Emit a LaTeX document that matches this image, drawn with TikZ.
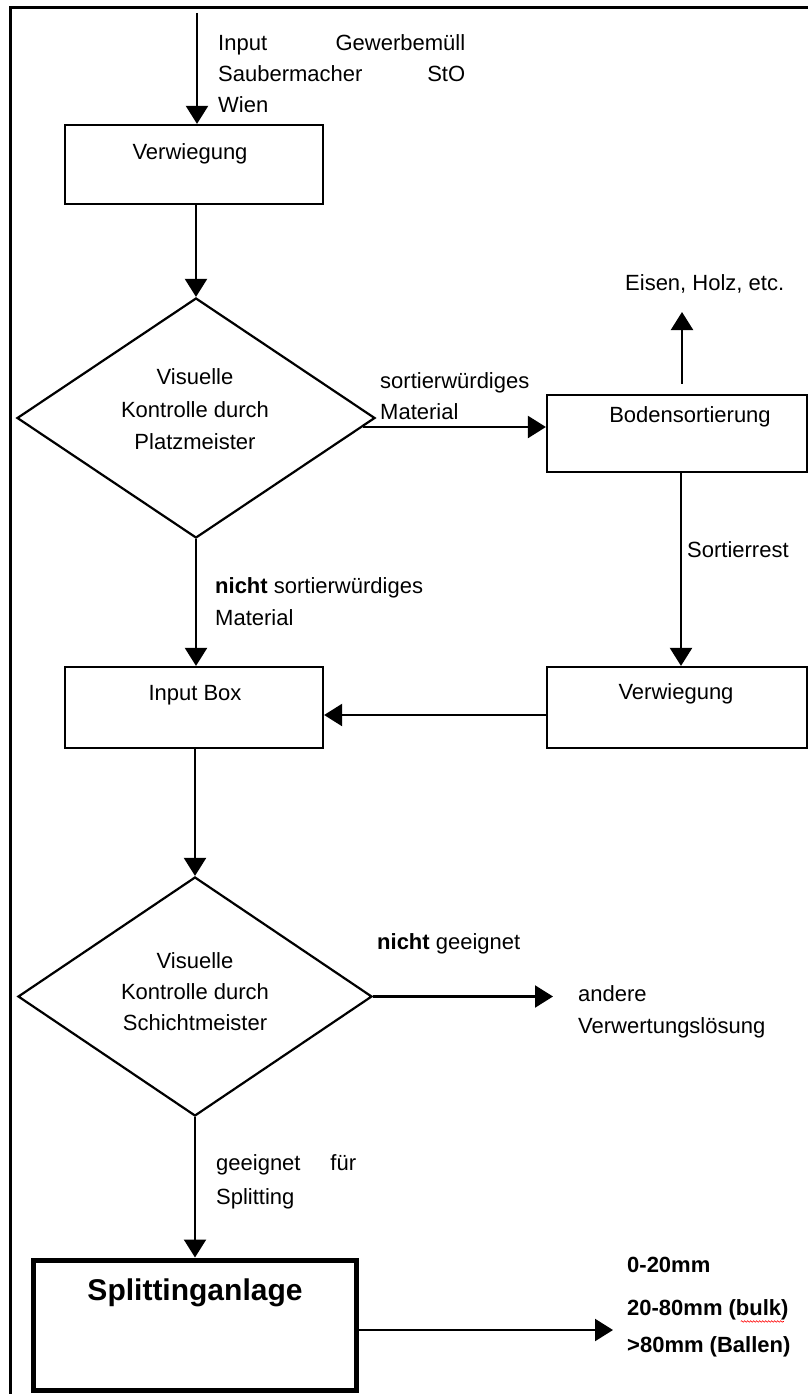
\documentclass[tikz,border=0pt]{standalone}
\usepackage{fontspec}
\setmainfont{Liberation Sans}
\usetikzlibrary{arrows.meta,shapes.geometric,calc,decorations.pathmorphing}
\begin{document}
\begin{tikzpicture}[x=1pt,y=-1pt,
  box/.style={draw, rectangle, inner sep=0pt, line width=2.2pt},
  decision/.style={draw, diamond, inner sep=0pt, line width=2.2pt},
  arr/.style={-{Triangle[length=18pt,width=22pt]}, line width=2.2pt},
  txt/.style={inner sep=0pt, font=\fontsize{22}{#1}\selectfont,
              execute at begin node={\noindent\rule{0pt}{17pt}}},
  txt/.default=32,
  outtxt/.style={txt, font=\fontsize{22}{32}\selectfont\bfseries, anchor=north west},
]
\useasboundingbox (0,0) rectangle (808,1394);

% frame (top and left edges)
\draw[line width=3pt] (808,7.5) -- (10,7.5) -- (10,1394);

% boxes
\node[box, minimum width=258pt, minimum height=79pt] (v1) at (194,164.5) {};
\node[box, minimum width=260pt, minimum height=77pt] (bs) at (677,433.5) {};
\node[box, minimum width=258pt, minimum height=81pt] (ib) at (194,707.5) {};
\node[box, minimum width=260pt, minimum height=81pt] (v2) at (677,707.5) {};
\node[box, line width=5pt, minimum width=323pt, minimum height=130pt] (sp) at (194.5,1325) {};

% decisions
\node[decision, minimum width=358pt, minimum height=240pt] (d1) at (196,418) {};
\node[decision, minimum width=354pt, minimum height=239pt] (d2) at (195,996.5) {};

% texts
\node[txt=31, anchor=north west, text width=247pt, align=left] (tin) at (218,33.5)
  {Input\hfill Gewerbemüll\\Saubermacher\hfill StO\\Wien};
\node[txt, anchor=north] (tv1) at (190,142.5) {Verwiegung};
\node[txt=32.5, anchor=north, align=center] (td1) at (195,368.5)
  {Visuelle\\Kontrolle durch\\Platzmeister};
\node[txt=31, anchor=north west, align=left] (tsw) at (380,372.5)
  {sortierwürdiges\\Material};
\node[txt, anchor=north] (tbs) at (690,405.5) {Bodensortierung};
\node[txt, anchor=north west] (teis) at (625,273.5) {Eisen, Holz, etc.};
\node[txt, anchor=north west] (trest) at (687,540.5) {Sortierrest};
\node[txt=32, anchor=north west, align=left] (tnsw) at (215,577.5)
  {\textbf{nicht} sortierwürdiges\\Material};
\node[txt, anchor=north] (tib) at (195,683.5) {Input Box};
\node[txt, anchor=north] (tv2) at (676,682.5) {Verwiegung};
\node[txt, anchor=north west] (tng) at (377,932.5) {\textbf{nicht} geeignet};
\node[txt=31, anchor=north, align=center] (td2) at (195,952.5)
  {Visuelle\\Kontrolle durch\\Schichtmeister};
\node[txt=32, anchor=north west, align=left] (tand) at (578,985.5)
  {andere\\Verwertungslösung};
\node[txt=34, anchor=north west, text width=140pt, align=left] (tgf) at (216,1153.5)
  {geeignet\hfill für\\Splitting};
\node[inner sep=0pt, font=\fontsize{30}{36}\selectfont\bfseries] (tsp) at (195,1293)
  {Splittinganlage};
\node[outtxt] (o1) at (627,1255.5) {0-20mm};
\node[outtxt] (o2) at (627,1298.5) {20-80mm (bulk)};
\node[outtxt] (o3) at (627,1335.5) {>80mm (Ballen)};

% connectors
\coordinate (src) at (197,13);
\draw[arr] (src) -- (src |- v1.north);
\draw[arr] (v1.south -| d1.north) -- (d1.north);
\draw[arr] ($(d1.east)+(-13,9)$) coordinate (m1) -- (m1 -| bs.west);
\coordinate (eisen) at (682,312);
\draw[arr, shorten <=10pt] (eisen |- bs.north) -- (eisen);
\draw[arr] ($(bs.south)+(4,0)$) -- ($(v2.north)+(4,0)$);
\draw[arr] ($(v2.west)+(0,7.5)$) -- ($(ib.east)+(0,7.5)$);
\draw[arr] (d1.south) -- (d1.south |- ib.north);
\draw[arr] (ib.south -| d2.north) -- (d2.north);
\coordinate (other) at (553,996.5);
\draw[arr] (d2.east) -- (other);
\draw[arr] (d2.south) -- (d2.south |- sp.north);
\coordinate (prod) at (613,1330);
\draw[arr] ($(sp.east)+(0,5)$) -- (prod);

% spell-check underline
\draw[red, line width=0.6pt, decorate,
      decoration={snake, amplitude=0.8pt, segment length=3pt}]
  ($(o2.south east)+(-48,1)$) -- ($(o2.south east)+(-5,1)$);
\end{tikzpicture}
\end{document}
